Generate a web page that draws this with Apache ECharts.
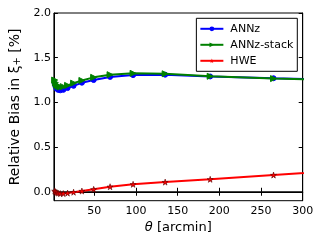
<!DOCTYPE html>
<html><head><meta charset="utf-8">
<script src="https://cdn.jsdelivr.net/npm/echarts@6/dist/echarts.min.js"></script>
<style>html,body{margin:0;padding:0;background:#fff}#c{width:320px;height:240px}</style>
</head><body><div id="c"></div>
<script>
const theta = [2.4, 3.3, 4.65, 6.5, 9.1, 12.8, 17.9, 25.1, 35.1, 49.2, 68.9, 96.5, 135, 189, 265, 371];
const annz = [1.21, 1.18, 1.155, 1.14, 1.135, 1.14, 1.16, 1.185, 1.22, 1.25, 1.285, 1.305, 1.31, 1.29, 1.27, 1.245];
const annzStack = [1.25, 1.22, 1.195, 1.18, 1.172, 1.176, 1.19, 1.215, 1.245, 1.28, 1.31, 1.325, 1.32, 1.292, 1.266, 1.245];
const hwe = [0.01, 0.0, -0.01, -0.015, -0.02, -0.02, -0.015, -0.005, 0.008, 0.027, 0.056, 0.083, 0.108, 0.139, 0.187, 0.25];
const xTicks = [50, 100, 150, 200, 250, 300];
const yTicks = [0, 0.5, 1.0, 1.5, 2.0];
const seriesNames = ['ANNz', 'ANNz-stack', 'HWE'];

const pair = (ys) => theta.map((t, i) => [t, ys[i]]);
const star = 'path://M50,0 L61,35 L98,35 L68,57 L79,91 L50,70 L21,91 L32,57 L2,35 L39,35 Z';
const font = 'DejaVu Sans';

const chart = echarts.init(document.getElementById('c'), null, {renderer: 'canvas'});
const axisCommon = {
  axisLine: {show: true, lineStyle: {color: '#000', width: 1}},
  splitLine: {show: false},
};
chart.setOption({
  animation: false,
  textStyle: {fontFamily: font, color: '#000'},
  grid: {left: 46.7, right: 17.3, top: 13, bottom: 39.3, show: true, borderColor: '#000', borderWidth: 1, backgroundColor: 'transparent'},
  legend: {
    orient: 'vertical', right: 22.7, top: 18.3,
    data: seriesNames,
    borderColor: '#000', borderWidth: 1, borderRadius: 0,
    padding: [4, 4, 4, 3], itemGap: 3, itemWidth: 23, itemHeight: 6,
    itemStyle: {borderWidth: 0},
    textStyle: {fontFamily: font, fontSize: 11, color: '#000', lineHeight: 13, padding: [0, 0, 0, 2]}
  },
  xAxis: [{
    type: 'value', min: 1.5, max: 300, position: 'bottom',
    ...axisCommon,
    axisTick: {show: true, inside: true, length: 4, lineStyle: {color: '#000'}, customValues: xTicks},
    axisLabel: {fontFamily: font, fontSize: 11, color: '#000', margin: 5, customValues: xTicks},
    name: '{i|θ} [arcmin]', nameLocation: 'middle', nameGap: 15,
    nameTextStyle: {fontFamily: font, fontSize: 13, color: '#000', verticalAlign: 'top',
      rich: {i: {fontFamily: font, fontStyle: 'italic', fontSize: 13, color: '#000'}}}
  }, {
    type: 'value', min: 1.5, max: 300, position: 'top',
    ...axisCommon,
    axisTick: {show: true, inside: true, length: 4, lineStyle: {color: '#000'}, customValues: xTicks},
    axisLabel: {show: false}
  }],
  yAxis: [{
    type: 'value', min: -0.1, max: 2.0, position: 'left',
    ...axisCommon,
    axisTick: {show: true, inside: true, length: 4, lineStyle: {color: '#000'}, customValues: yTicks},
    axisLabel: {fontFamily: font, fontSize: 11, color: '#000', margin: 3, customValues: yTicks,
      formatter: v => v.toFixed(1)},
    name: 'Relative Bias in ξ{s|+} [%]', nameLocation: 'middle', nameGap: 28, nameRotate: 90,
    nameTextStyle: {fontFamily: font, fontSize: 14, color: '#000',
      rich: {s: {fontFamily: font, fontSize: 10, color: '#000', padding: [0, 0, -5, 0]}}}
  }, {
    type: 'value', min: -0.1, max: 2.0, position: 'right',
    ...axisCommon,
    axisTick: {show: true, inside: true, length: 4, lineStyle: {color: '#000'}, customValues: yTicks},
    axisLabel: {show: false}
  }],
  series: [{
    name: seriesNames[0], type: 'line', data: pair(annz), clip: true,
    symbol: 'circle', symbolSize: 5, showAllSymbol: true,
    lineStyle: {color: '#0000ff', width: 2}, itemStyle: {color: '#0000ff', borderColor: '#0000ff'},
    z: 3
  }, {
    name: seriesNames[1], type: 'line', data: pair(annzStack), clip: true,
    symbol: 'triangle', symbolRotate: -90, symbolSize: 6, showAllSymbol: true,
    lineStyle: {color: '#008000', width: 2}, itemStyle: {color: '#008000', borderColor: '#008000'},
    z: 4
  }, {
    name: seriesNames[2], type: 'line', data: pair(hwe), clip: true,
    symbol: star, symbolSize: 6, showAllSymbol: true,
    lineStyle: {color: '#ff0000', width: 2}, itemStyle: {color: '#ff0000', borderColor: '#550000', borderWidth: 0.6},
    markLine: {silent: true, symbol: 'none', label: {show: false},
      lineStyle: {color: '#000', width: 1.5, type: 'solid'}, data: [{yAxis: 0}]},
    z: 5
  }]
});
</script></body></html>
